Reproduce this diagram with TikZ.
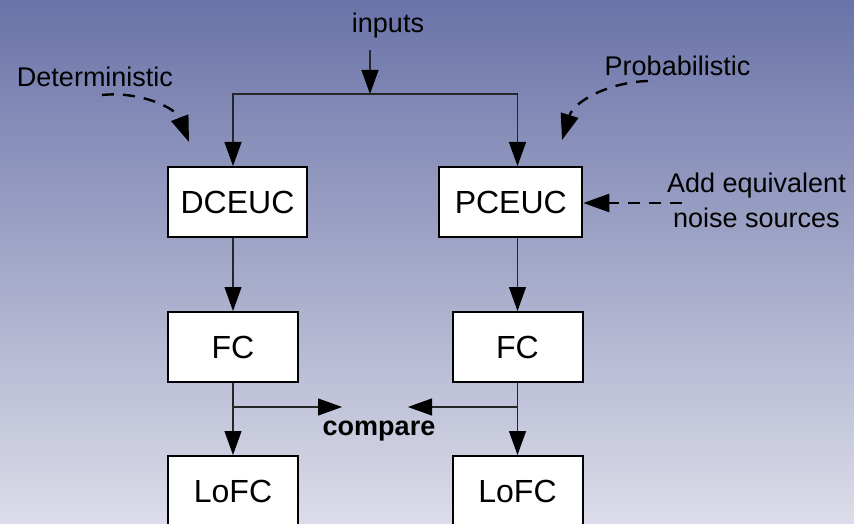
\documentclass[tikz,border=0pt]{standalone}
\usepackage{fontspec}
\setmainfont{Liberation Sans}
\usetikzlibrary{arrows.meta}

\definecolor{bgtop}{HTML}{6A73A8}
\definecolor{bgmid}{HTML}{A0A4C8}
\definecolor{bgbot}{HTML}{DCDDE9}

\tikzset{
  blockbox/.style={draw=black, fill=white, line width=2pt, inner sep=0pt,
    minimum height=70pt, font=\fontsize{32}{38}\selectfont},
  labeltext/.style={inner sep=0pt, font=\fontsize{27}{35}\selectfont},
  flow/.style={line width=1.1pt, draw=black!85,
    -{Triangle[length=24pt,width=17pt,color=black]}},
  hint/.style={line width=2.4pt, dash pattern=on 12pt off 9pt,
    -{Triangle[length=26pt,width=18pt]}},
}

\begin{document}
\begin{tikzpicture}[x=1pt,y=-1pt]
  % canvas with vertical gradient
  \clip (0,0) rectangle (854,524);
  \useasboundingbox (0,0) rectangle (854,524);
  \shade[top color=bgtop, middle color=bgmid, bottom color=bgbot]
    (0,0) rectangle (854,524);

  % blocks
  \node[blockbox, minimum width=139pt] (dceuc) at (237.5,202) {DCEUC};
  \node[blockbox, minimum width=143pt] (pceuc) at (510.8,202) {PCEUC};
  \node[blockbox, minimum width=130pt] (fcl)   at (233,347)   {FC};
  \node[blockbox, minimum width=130pt] (fcr)   at (517.5,347) {FC};
  \node[blockbox, minimum width=130pt] (lofcl) at (233,491)   {LoFC};
  \node[blockbox, minimum width=130pt] (lofcr) at (517.5,491) {LoFC};

  % text labels
  \node[labeltext, anchor=base] (inputs) at (388,33) {inputs};
  \node[labeltext, anchor=base] (det)    at (95,87)  {Deterministic};
  \node[labeltext, anchor=base] (prob)   at (677.5,76) {Probabilistic};
  \node[labeltext, align=center] (noise) at (756.5,200)
    {Add equivalent\\noise sources};
  \node[labeltext, font=\fontsize{27}{35}\selectfont\bfseries, anchor=base]
    (cmp) at (379,435) {compare};

  % input distribution
  \coordinate (inp)   at (370,50);
  \coordinate (split) at (370,94);
  \draw[flow] (inp) -- (split);
  \draw[flow] (split) -| (fcl.north |- dceuc.north);
  \draw[flow] (split) -| (fcr.north |- pceuc.north);

  % processing chains
  \draw[flow] (fcl.north |- dceuc.south) -- (fcl.north);
  \draw[flow] (fcr.north |- pceuc.south) -- (fcr.north);
  \draw[flow] (fcl.south) -- (lofcl.north);
  \draw[flow] (fcr.south) -- (lofcr.north);

  % comparison taps
  \coordinate (tapl) at (233,407);
  \coordinate (tapr) at (517.5,407);
  \coordinate (cmpl) at (342,407);
  \coordinate (cmpr) at (408,407);
  \draw[flow] (tapl) -- (cmpl);
  \draw[flow] (tapr) -- (cmpr);

  % annotations
  \coordinate (dets)  at (102,95);
  \coordinate (dett)  at (189,142);
  \draw[hint] (dets) .. controls (140,91) and (176,108) .. (dett);
  \coordinate (probs) at (648,81);
  \coordinate (probt) at (562,140);
  \draw[hint] (probs) .. controls (610,82) and (574,101) .. (probt);
  \coordinate (noises) at (682,203);
  \draw[hint] (noises) -- (pceuc.east |- noises);
\end{tikzpicture}
\end{document}
